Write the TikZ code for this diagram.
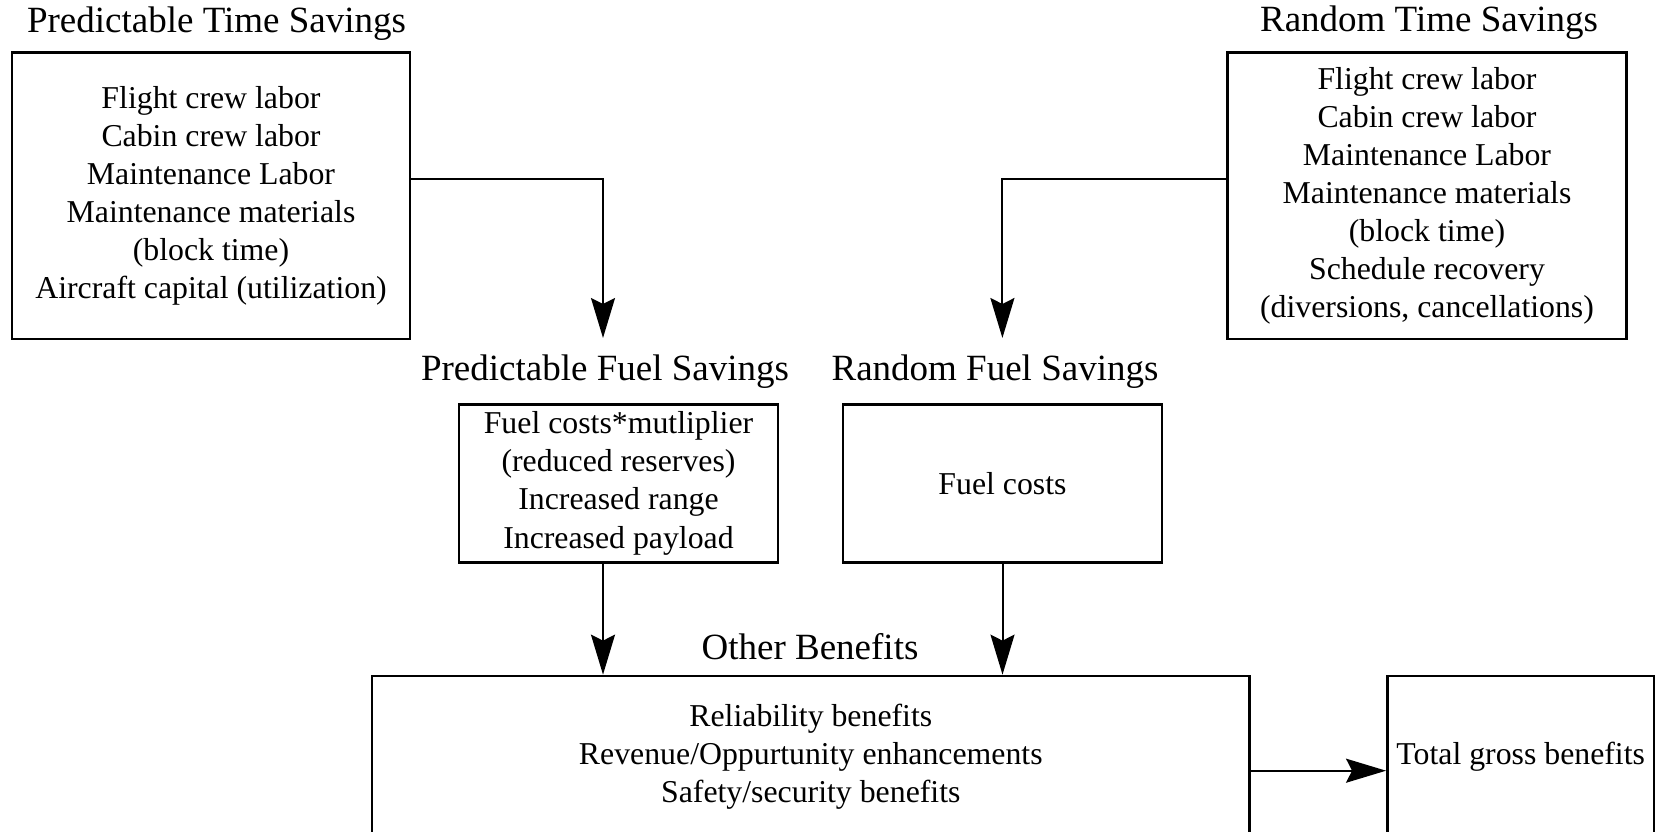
\documentclass[tikz,border=0pt]{standalone}
\usepackage{fontspec}
\setmainfont{Liberation Serif}
\usetikzlibrary{arrows.meta}
\begin{document}
\begin{tikzpicture}[x=1pt,y=1pt,
  box/.style={draw, line width=2.7pt, rectangle, align=center, inner sep=0pt,
    font=\fontsize{31.8}{38.1}\selectfont},
  heading/.style={inner sep=0pt, font=\fontsize{37}{44}\selectfont},
  arr/.style={line width=2pt, -{Stealth[length=40pt,width=24pt,inset=6pt]}}]
\useasboundingbox (0,0) rectangle (1657,-832);
\clip (0,0) rectangle (1657,-832);

% time savings
\node[heading] (ptsT) at (216.5,-24) {Predictable Time Savings};
\node[box, minimum width=398pt, minimum height=286.7pt] (pts) at (211,-195.7)
  {Flight crew labor\\Cabin crew labor\\Maintenance Labor\\Maintenance materials\\(block time)\\Aircraft capital (utilization)};
\node[heading] (rtsT) at (1429,-23) {Random Time Savings};
\node[box, minimum width=399pt, minimum height=286.7pt] (rts) at (1427,-195.7)
  {Flight crew labor\\Cabin crew labor\\Maintenance Labor\\Maintenance materials\\(block time)\\Schedule recovery\\(diversions, cancellations)};

% fuel savings
\node[heading] (pfsT) at (605,-371.7) {Predictable Fuel Savings};
\node[box, minimum width=319pt, minimum height=158pt] (pfs) at (618.5,-483.3)
  {Fuel costs*mutliplier\\(reduced reserves)\\Increased range\\Increased payload};
\node[heading] (rfsT) at (995,-371.7) {Random Fuel Savings};
\node[box, minimum width=319pt, minimum height=158pt] (rfs) at (1002.5,-483.3)
  {Fuel costs};

% other and total benefits
\node[heading] (obT) at (810,-646.7) {Other Benefits};
\node[box, minimum width=877.6pt, minimum height=161pt] (ob) at (810.8,-756.5)
  {Reliability benefits\\Revenue/Oppurtunity enhancements\\Safety/security benefits};
\node[box, minimum width=266.6pt, minimum height=161pt] (tgb) at (1520.7,-756.5)
  {Total gross benefits};

% connectors
\coordinate (ptip) at (603,-338);
\coordinate (rtip) at (1002.4,-338);
\draw[arr] ([yshift=16.7pt]pts.east) -| (ptip);
\draw[arr] ([yshift=16.7pt]rts.west) -| (rtip);
\draw[arr] (ptip |- pfs.south) -- (ptip |- ob.north);
\draw[arr] (rfs.south) -- (rfs.south |- ob.north);
\draw[arr] ([yshift=-14.2pt]ob.east) -- ([yshift=-14.2pt]ob.east -| tgb.west);
\end{tikzpicture}
\end{document}
